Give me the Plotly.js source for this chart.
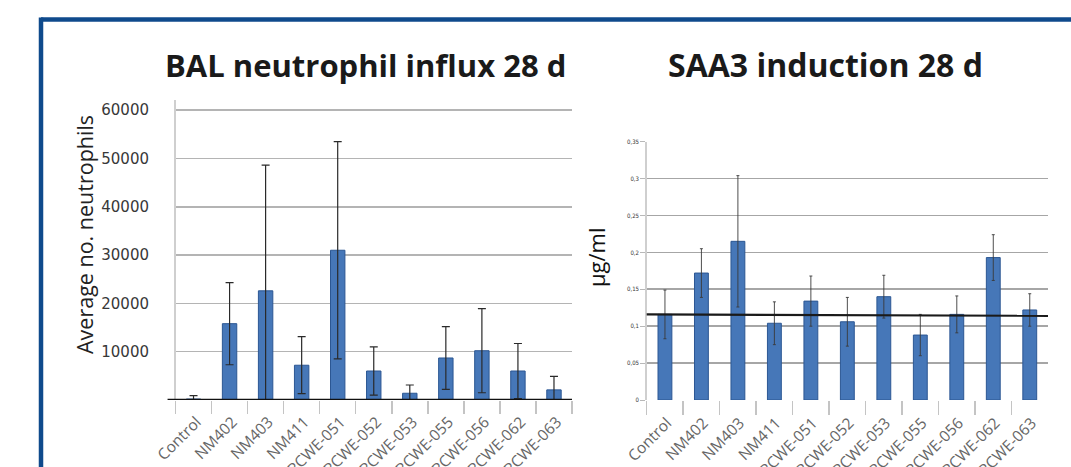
<!DOCTYPE html>
<html>
<head>
<meta charset="utf-8">
<script src="https://cdn.plot.ly/plotly-3.0.1.min.js"></script>
<style>
  html, body { margin: 0; padding: 0; background: #ffffff; overflow: hidden; }
  #chart { width: 1071px; height: 467px; }
</style>
</head>
<body>
<div id="chart"></div>
<script>
// ---- data ----
const categories = ['Control', 'NM402', 'NM403', 'NM411', 'NRCWE-051', 'NRCWE-052',
                    'NRCWE-053', 'NRCWE-055', 'NRCWE-056', 'NRCWE-062', 'NRCWE-063'];

const neutrophilMean = [200, 15800, 22600, 7200, 31000, 6000, 1400, 8700, 10200, 6000, 2100];
const neutrophilErr  = [700, 8500, 26000, 5900, 22500, 5000, 1700, 6500, 8700, 5700, 2800];

const saaMean = [0.116, 0.172, 0.215, 0.104, 0.134, 0.106, 0.140, 0.088, 0.116, 0.193, 0.122];
const saaErr  = [0.033, 0.033, 0.089, 0.029, 0.034, 0.033, 0.029, 0.028, 0.025, 0.031, 0.022];
const saaControlLevel = [0.116, 0.114];

const leftTitle = 'BAL neutrophil influx 28 d';
const rightTitle = 'SAA3 induction 28 d';
const leftYTitle = 'Average no. neutrophils';
const rightYTitle = 'µg/ml';

const leftTickVals = [10000, 20000, 30000, 40000, 50000, 60000];
const leftTickText = ['10000', '20000', '30000', '40000', '50000', '60000'];
const rightTickVals = [0, 0.05, 0.1, 0.15, 0.2, 0.25, 0.3, 0.35];
const rightTickText = ['0', '0,05', '0,1', '0,15', '0,2', '0,25', '0,3', '0,35'];

// ---- figure ----
const W = 1071, H = 467;
const px = v => v / W;
const py = v => 1 - v / H;

const barFill = '#4677b8';
const barLine = '#2c5793';

const traces = [
  {
    type: 'bar', x: categories, y: neutrophilMean, xaxis: 'x', yaxis: 'y',
    width: 0.4,
    marker: { color: barFill, line: { color: barLine, width: 1 } },
    error_y: {
      type: 'data', array: neutrophilErr,
      arrayminus: neutrophilErr.map((e, i) => Math.min(e, neutrophilMean[i])),
      visible: true, color: '#2a2a2a', thickness: 1.2, width: 4
    },
    hoverinfo: 'x+y', showlegend: false
  },
  {
    type: 'bar', x: categories, y: saaMean, xaxis: 'x2', yaxis: 'y2',
    width: 0.38,
    marker: { color: barFill, line: { color: barLine, width: 1 } },
    error_y: {
      type: 'data', array: saaErr, visible: true,
      color: '#3a3a3a', thickness: 0.9, width: 1.5
    },
    hoverinfo: 'x+y', showlegend: false
  }
];

const xTickFont = { family: 'Open Sans, sans-serif', size: 15.5, color: '#666666' };

const layout = {
  width: W, height: H,
  margin: { l: 0, r: 0, t: 0, b: 0, pad: 0 },
  paper_bgcolor: '#ffffff',
  plot_bgcolor: 'rgba(0,0,0,0)',
  showlegend: false,
  xaxis: {
    domain: [px(175.5), px(572)], anchor: 'y',
    type: 'category', tickangle: -45,
    ticks: 'outside', tickson: 'boundaries', ticklen: 13, tickwidth: 1.5, tickcolor: '#c4c4c4',
    ticklabelstandoff: 9, ticklabelshift: 3,
    showline: false, showgrid: false, zeroline: false,
    tickfont: xTickFont, automargin: false
  },
  yaxis: {
    domain: [py(400), py(100)], anchor: 'x',
    range: [0, 62100],
    tickvals: leftTickVals, ticktext: leftTickText,
    ticks: '', ticklabelstandoff: 22,
    showgrid: true, gridcolor: '#b4b4b4', gridwidth: 1.6,
    showline: true, linecolor: '#cfcfcf', linewidth: 1.5,
    zeroline: false,
    tickfont: { family: 'DejaVu Sans, sans-serif', size: 15, color: '#383838' },
    automargin: false
  },
  xaxis2: {
    domain: [px(646.7), px(1048)], anchor: 'y2',
    type: 'category', tickangle: -45,
    ticks: 'outside', tickson: 'boundaries', ticklen: 14, tickwidth: 1.5, tickcolor: '#c4c4c4',
    ticklabelstandoff: 10, ticklabelshift: 2,
    showline: false, showgrid: false, zeroline: false,
    tickfont: xTickFont, automargin: false
  },
  yaxis2: {
    domain: [py(400), py(141.7)], anchor: 'x2',
    range: [0, 0.35],
    tickvals: rightTickVals, ticktext: rightTickText,
    ticks: 'outside', ticklen: 5, tickcolor: '#b8b8b8', tickwidth: 1,
    showgrid: true, gridcolor: '#a6a6a6', gridwidth: 1.6,
    showline: true, linecolor: '#cfcfcf', linewidth: 1.5,
    zeroline: false,
    tickfont: { family: 'DejaVu Sans Condensed, DejaVu Sans, sans-serif', size: 6, color: '#333333' },
    automargin: false
  },
  shapes: [
    // slide frame
    { type: 'line', xref: 'paper', yref: 'paper', x0: px(41), x1: px(1080), y0: py(19.5), y1: py(19.5),
      line: { color: '#0f4a8c', width: 4.5 } },
    { type: 'line', xref: 'paper', yref: 'paper', x0: px(41), x1: px(41), y0: py(17.5), y1: py(480),
      line: { color: '#0f4a8c', width: 4.5 } },
    // baseline at zero, left chart
    { type: 'line', xref: 'x domain', yref: 'y', x0: -0.02, x1: 1, y0: 0, y1: 0,
      line: { color: '#111111', width: 2.5 } },
    // control reference level, right chart
    { type: 'line', xref: 'x2 domain', yref: 'y2', x0: 0, x1: 1,
      y0: saaControlLevel[0], y1: saaControlLevel[1],
      line: { color: '#1a1a1a', width: 2.2 } }
  ],
  annotations: [
    { text: '<b>' + leftTitle + '</b>', xref: 'paper', yref: 'paper', x: px(365), y: py(65),
      xanchor: 'center', yanchor: 'middle', showarrow: false,
      font: { family: 'Open Sans, sans-serif', size: 31, color: '#1a1a1a' } },
    { text: '<b>' + rightTitle + '</b>', xref: 'paper', yref: 'paper', x: px(825), y: py(65),
      xanchor: 'center', yanchor: 'middle', showarrow: false,
      font: { family: 'Open Sans, sans-serif', size: 32, color: '#1a1a1a' } },
    { text: leftYTitle, xref: 'paper', yref: 'paper', x: px(84), y: py(235),
      xanchor: 'center', yanchor: 'middle', textangle: -90, showarrow: false,
      font: { family: 'Open Sans, sans-serif', size: 21.5, color: '#222222' } },
    { text: rightYTitle, xref: 'paper', yref: 'paper', x: px(596), y: py(257),
      xanchor: 'center', yanchor: 'middle', textangle: -90, showarrow: false,
      font: { family: 'Open Sans, sans-serif', size: 22, color: '#111111' } }
  ]
};

Plotly.newPlot('chart', traces, layout, { displayModeBar: false, staticPlot: true });
</script>
</body>
</html>
